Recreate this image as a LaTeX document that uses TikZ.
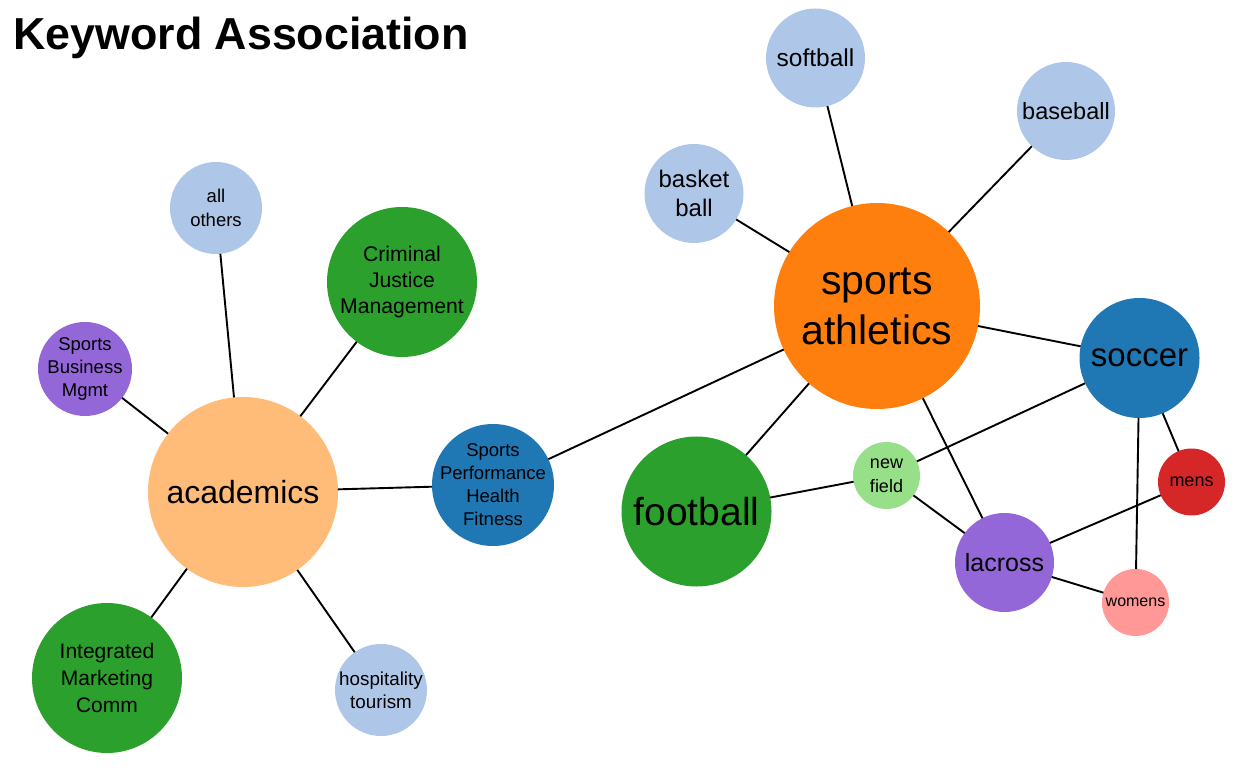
\documentclass[tikz,border=0pt]{standalone}
\usepackage{fontspec}
\setmainfont{Liberation Sans}
\definecolor{ltblue}{HTML}{AEC7E8}
\definecolor{dkorange}{HTML}{FF7F0E}
\definecolor{ltorange}{HTML}{FFBB78}
\definecolor{dkblue}{HTML}{1F77B4}
\definecolor{dkgreen}{HTML}{2CA02C}
\definecolor{ltgreen}{HTML}{98DF8A}
\definecolor{dkred}{HTML}{D62728}
\definecolor{ltred}{HTML}{FF9896}
\definecolor{kwpurple}{HTML}{9467D9}
\newcommand\kwbubble[8]{%
  \node[bub, fill=#5, minimum size=2*#4] (#1) at (#2,#3) {};
  \node[lbl, font=\fontsize{#6}{#7}\selectfont] (#1-t) at (#1) {#8};}
\begin{document}
\begin{tikzpicture}[x=1pt,y=-1pt,
  bub/.style={circle, inner sep=0pt, outer sep=0pt, draw=none},
  lbl/.style={align=center, inner sep=0pt, text=black},
  link/.style={line width=1.9pt, black}]
\fill[white] (0,0) rectangle (1240,775);
\useasboundingbox (0,0) rectangle (1240,775);
\node[anchor=base west, inner sep=0pt, font=\bfseries\fontsize{44.8}{50}\selectfont] (title) at (13,50) {Keyword Association};
% sports cluster
\kwbubble{softball}{815.5}{58}{49.5}{ltblue}{24.5}{29}{softball}
\kwbubble{baseball}{1066}{111}{49}{ltblue}{23.5}{29}{baseball}
\kwbubble{basket}{694}{193.5}{49.5}{ltblue}{24}{29.5}{basket\\ball}
\kwbubble{sa}{877}{306}{103}{dkorange}{41}{50}{sports\\athletics}
\kwbubble{soccer}{1139.5}{358}{60}{dkblue}{33}{40}{soccer}
\kwbubble{football}{696.5}{511.5}{75}{dkgreen}{39}{46}{football}
\kwbubble{newfield}{886.5}{475.5}{33.5}{ltgreen}{18}{23.5}{new\\field}
\kwbubble{mens}{1191.5}{482}{33.5}{dkred}{18}{22}{mens}
\kwbubble{lacross}{1004.5}{562.5}{49.5}{kwpurple}{25}{30}{lacross}
\kwbubble{womens}{1135.5}{602.5}{33.5}{ltred}{16}{20}{womens}
% academics cluster
\kwbubble{sphf}{493}{485}{61}{dkblue}{18.5}{23}{Sports\\Performance\\Health\\Fitness}
\kwbubble{academics}{243}{492}{95}{ltorange}{32}{38}{academics}
\kwbubble{allothers}{216}{208}{46}{ltblue}{18.5}{24}{all\\others}
\kwbubble{cjm}{402}{282}{75}{dkgreen}{21.2}{26}{Criminal\\Justice\\Management}
\kwbubble{sbm}{85}{369}{47}{kwpurple}{18.5}{23}{Sports\\Business\\Mgmt}
\kwbubble{imc}{107}{678}{75}{dkgreen}{21}{27}{Integrated\\Marketing\\Comm}
\kwbubble{hosp}{381}{690}{46}{ltblue}{18.8}{23}{hospitality\\tourism}
% connectors
\draw[link] (sa) -- (softball);
\draw[link] (sa) -- (baseball);
\draw[link] (sa) -- (basket);
\draw[link] (sa) -- (soccer);
\draw[link] (sa) -- (football);
\draw[link] (sa) -- (lacross);
\draw[link] (sa) -- (sphf);
\draw[link] (soccer) -- (newfield);
\draw[link] (soccer) -- (mens);
\draw[link] (soccer) -- (womens);
\draw[link] (football) -- (newfield);
\draw[link] (newfield) -- (lacross);
\draw[link] (lacross) -- (mens);
\draw[link] (lacross) -- (womens);
\draw[link] (sphf) -- (academics);
\draw[link] (academics) -- (allothers);
\draw[link] (academics) -- (cjm);
\draw[link] (academics) -- (sbm);
\draw[link] (academics) -- (imc);
\draw[link] (academics) -- (hosp);
\end{tikzpicture}
\end{document}
